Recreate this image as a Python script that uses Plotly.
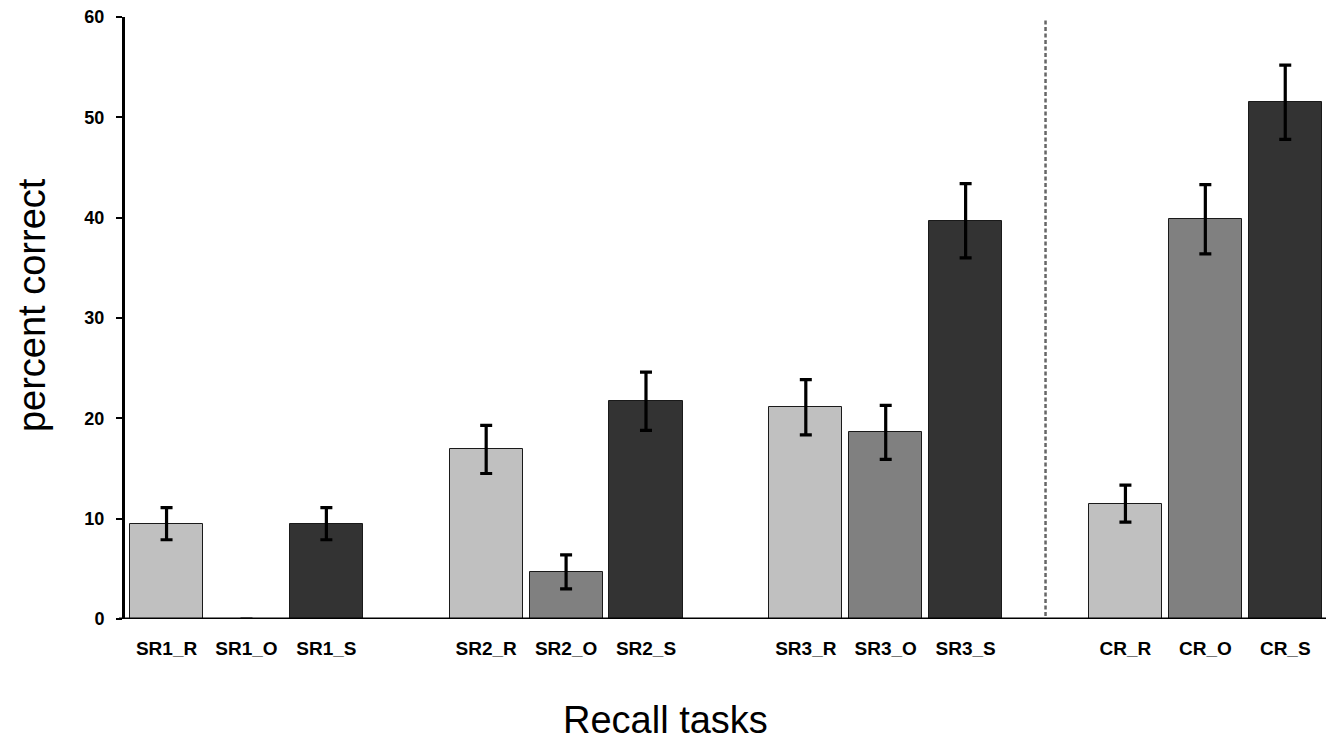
import plotly.graph_objects as go

groups = ["SR1", "SR2", "SR3", "CR"]
conditions = ["R", "O", "S"]
colors = ["#c0c0c0", "#808080", "#333333"]

vals_R = [9.5, 16.9, 21.1, 11.5]
vals_O = [0.0, 4.7, 18.6, 39.85]
vals_S = [9.5, 21.7, 39.7, 51.5]
err_R = [1.6, 2.4, 2.75, 1.85]
err_O = [None, 1.7, 2.7, 3.45]
err_S = [1.6, 2.9, 3.7, 3.7]

values = [vals_R, vals_O, vals_S]
errors = [err_R, err_O, err_S]

group_step = 4
fig = go.Figure()
tickvals, ticktext = [], []
for ci, cond in enumerate(conditions):
    xs = [gi * group_step + ci for gi in range(len(groups))]
    fig.add_trace(go.Bar(
        x=xs, y=values[ci], width=0.915,
        marker=dict(color=colors[ci], line=dict(color="#1a1a1a", width=1)),
        error_y=dict(type="data", array=errors[ci], visible=True,
                     color="black", thickness=3.2, width=6),
        showlegend=False,
    ))
    for gi, g in enumerate(groups):
        tickvals.append(gi * group_step + ci)
        ticktext.append(f"{g}_{cond}")

sep_x = 3 * group_step - 1

fig.add_shape(type="line", xref="x", yref="y", x0=sep_x, x1=sep_x, y0=0.3, y1=59.7,
              line=dict(color="#666666", width=2.5, dash="4px,2.5px"))
fig.add_shape(type="line", xref="paper", yref="y", x0=-0.005, x1=1, y0=0, y1=0,
              line=dict(color="black", width=3))

fig.update_layout(
    width=1326, height=741,
    margin=dict(l=125, r=0, t=17, b=122),
    plot_bgcolor="white", paper_bgcolor="white",
    bargap=0,
    font=dict(family="Liberation Sans, Arial, sans-serif", color="black"),
    xaxis=dict(range=[-0.52, 14.51], tickvals=tickvals, ticktext=ticktext,
               tickfont=dict(size=19, family="Liberation Sans, Arial", weight="bold"),
               showline=False, showgrid=False, zeroline=False, ticks="",
               ticklabelstandoff=16),
    yaxis=dict(range=[0, 60], tickvals=[0, 10, 20, 30, 40, 50, 60],
               tickfont=dict(size=18, family="Liberation Sans, Arial", weight="bold"),
               showline=True, linecolor="black", linewidth=3,
               ticks="outside", ticklen=6, tickwidth=2, tickcolor="black",
               showgrid=False, zeroline=False, ticklabelstandoff=8),
    annotations=[
        dict(text="percent correct", xref="paper", yref="paper", x=-0.078, y=0.522,
             textangle=-90, showarrow=False, font=dict(size=38),
             xanchor="center", yanchor="middle"),
        dict(text="Recall tasks", xref="paper", yref="paper", x=0.45, y=-0.168,
             showarrow=False, font=dict(size=38), xanchor="center", yanchor="middle"),
    ],
)

fig.write_html("out.html", config={"displayModeBar": False},
               post_script="document.body.style.margin='0';document.body.style.overflow='hidden';")
